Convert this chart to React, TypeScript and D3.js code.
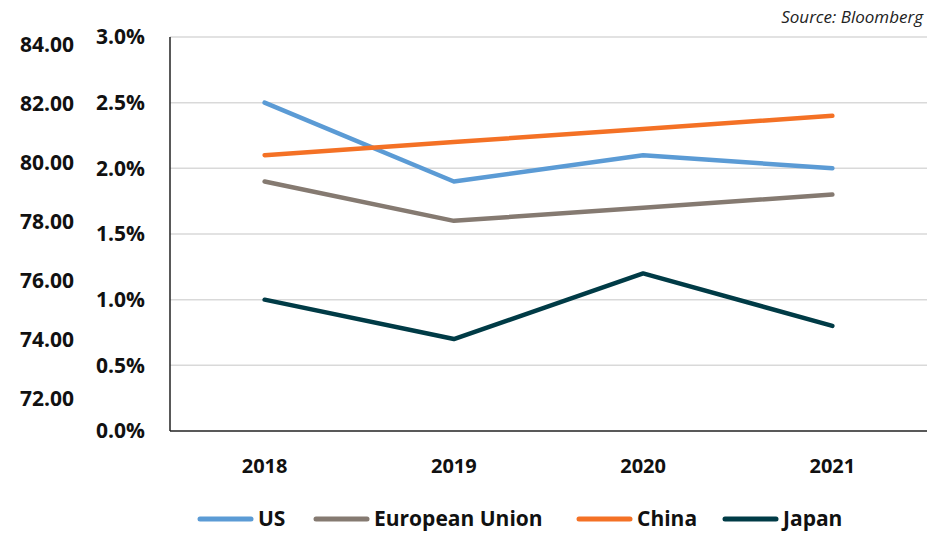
import * as d3 from 'd3';
import React from 'react';

const years = ['2018', '2019', '2020', '2021'];
const usValues = [2.5, 1.9, 2.1, 2.0];
const euValues = [1.9, 1.6, 1.7, 1.8];
const chinaValues = [2.1, 2.2, 2.3, 2.4];
const japanValues = [1.0, 0.7, 1.2, 0.8];
const pctTicks = [0, 0.5, 1.0, 1.5, 2.0, 2.5, 3.0];
const outerTicks = [72, 74, 76, 78, 80, 82, 84];

const series = [
  { name: 'US', values: usValues, color: '#5b9bd5' },
  { name: 'European Union', values: euValues, color: '#857a71' },
  { name: 'China', values: chinaValues, color: '#f47125' },
  { name: 'Japan', values: japanValues, color: '#003b46' },
];

const App = () => {
  const width = 939, height = 535;
  const margin = { top: 37, right: 12, bottom: 104, left: 170 };
  const innerW = width - margin.left - margin.right;
  const innerH = height - margin.top - margin.bottom;

  const x = d3.scaleBand().domain(years).range([0, innerW]);
  const y = d3.scaleLinear().domain([0, 3]).range([innerH, 0]);
  // outer label axis (no marks plotted on it)
  const y2 = d3.scaleLinear().domain([72, 84]).range([399, 45]);

  const line = d3.line<number>()
    .x((d, i) => x(years[i])! + x.bandwidth() / 2)
    .y(d => y(d));

  const font = '"Open Sans", sans-serif';

  const legendX = [198, 314, 577, 723];

  return (
    <svg width={width} height={height} style={{ position: 'absolute', left: 0, top: 0, background: '#fff' }}>
      <text x={923} y={23} textAnchor="end" fontStyle="italic" fontSize={17} fontFamily={font} fill="#222">Source: Bloomberg</text>
      {outerTicks.map(t => (
        <text key={t} x={74} y={y2(t)} dy="0.35em" textAnchor="end" fontWeight="bold" fontSize={21} fontFamily={font} fill="#111">
          {t.toFixed(2)}
        </text>
      ))}
      <g transform={`translate(${margin.left},${margin.top})`}>
        {pctTicks.filter(t => t > 0).map(t => (
          <line key={t} x1={0} x2={innerW} y1={y(t)} y2={y(t)} stroke="#d9d9d9" strokeWidth={1.5} />
        ))}
        {pctTicks.map(t => (
          <text key={t} x={-25} y={y(t)} dy="0.35em" textAnchor="end" fontWeight="bold" fontSize={21} fontFamily={font} fill="#111">
            {t.toFixed(1)}%
          </text>
        ))}
        {series.map(s => (
          <path key={s.name} d={line(s.values)!} fill="none" stroke={s.color} strokeWidth={4.5} strokeLinecap="round" strokeLinejoin="round" />
        ))}
        <line x1={0} x2={0} y1={0} y2={innerH} stroke="#222" strokeWidth={1.5} />
        <line x1={0} x2={innerW} y1={innerH} y2={innerH} stroke="#222" strokeWidth={1.5} />
        {years.map(yr => (
          <text key={yr} x={x(yr)! + x.bandwidth() / 2} y={innerH + 35} dy="0.35em" textAnchor="middle" fontWeight="bold" fontSize={20} fontFamily={font} fill="#111">
            {yr}
          </text>
        ))}
      </g>
      {series.map((s, i) => (
        <g key={s.name} transform={`translate(${legendX[i]},519)`}>
          <line x1={2} x2={53} y1={0} y2={0} stroke={s.color} strokeWidth={5} strokeLinecap="round" />
          <text x={60} y={0} dy="0.35em" fontWeight="bold" fontSize={21} fontFamily={font} fill="#111">{s.name}</text>
        </g>
      ))}
    </svg>
  );
};

export default App;
